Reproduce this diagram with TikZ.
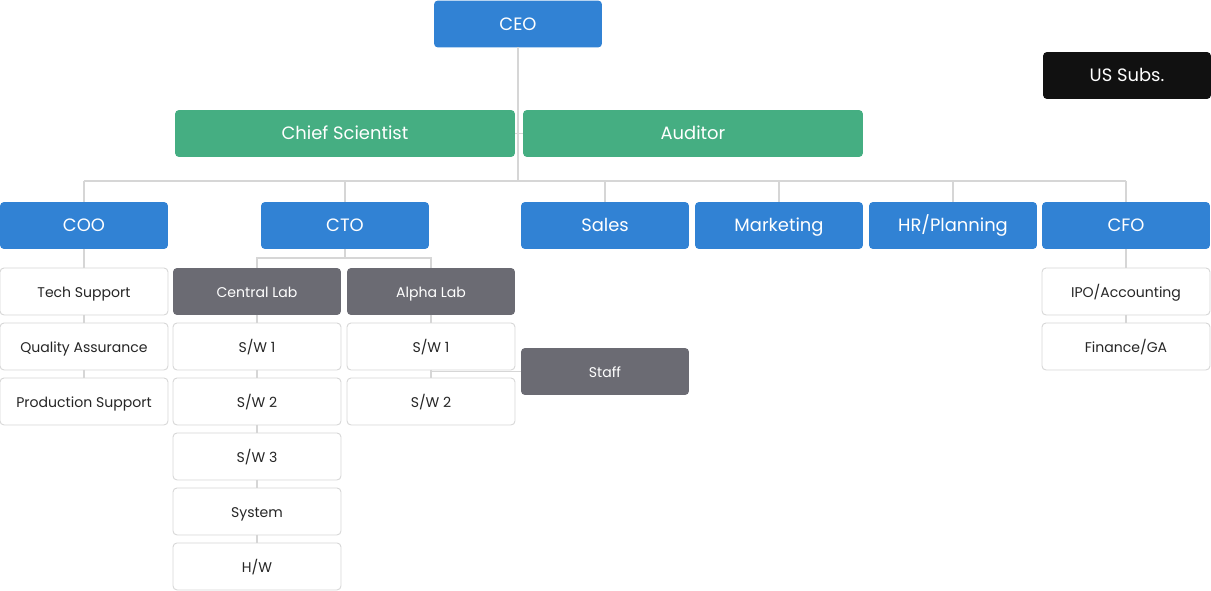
\documentclass[tikz,border=0pt]{standalone}
\usepackage{fontspec}
\setmainfont{Poppins}
\usetikzlibrary{positioning}
\definecolor{chartblue}{HTML}{3182D4}
\definecolor{chartgreen}{HTML}{45AE82}
\definecolor{chartgrey}{HTML}{6B6B73}
\definecolor{chartblack}{HTML}{111111}
\definecolor{chartline}{HTML}{D6D6D6}
\newcommand*{\bigtext}{\fontsize{10.2}{12}\selectfont}
\newcommand*{\smalltext}{\fontsize{8}{9.5}\selectfont}
\tikzstyle{block} = [minimum width=3.36cm, minimum height=0.94cm, rectangle, rounded corners=0.8mm, inner sep=2pt, outer sep=0pt, text height=0.7em, text depth=0pt]
\tikzstyle{head} = [block, fill=chartblue, text=white, font=\bigtext]
\tikzstyle{wide} = [block, fill=chartgreen, text=white, minimum width=6.8cm, font=\bigtext]
\tikzstyle{subsidiary} = [block, fill=chartblack, text=white, font=\bigtext]
\tikzstyle{lab} = [block, fill=chartgrey, text=white, font=\smalltext]
\tikzstyle{unit} = [block, draw=chartline, line width=0.5pt, fill=white, text=black!85, font=\smalltext]
\tikzstyle{link} = [draw=chartline, line width=0.6pt]

\begin{document}
\begin{tikzpicture}[x=0.02cm, y=-0.02cm, node distance=1.6mm]
    \useasboundingbox (0,0) rectangle (1211,591);

    % Top.
    \node (ceo) [head] at (518,24) {CEO};
    \node (chief) [wide] at (345,133.5) {Chief Scientist};
    \node (auditor) [wide] at (693,133.5) {Auditor};
    \node (subs) [subsidiary] at (1127,75.5) {US Subs.};

    % Heads.
    \node (coo) [head] at (84,225.5) {COO};
    \node (cto) [head] at (345,225.5) {CTO};
    \node (sales) [head] at (605,225.5) {Sales};
    \node (marketing) [head] at (779,225.5) {Marketing};
    \node (hr) [head] at (953,225.5) {HR/Planning};
    \node (cfo) [head] at (1126,225.5) {CFO};

    % Units.
    \node (tech) [unit, below=3.8mm of coo] {Tech Support};
    \node (quality) [unit, below=of tech] {Quality Assurance};
    \node (production) [unit, below=of quality] {Production Support};

    \node (central) [lab] at (257,291.5) {Central Lab};
    \node (alpha) [lab] at (431,291.5) {Alpha Lab};
    \node (csw1) [unit, below=of central] {S/W 1};
    \node (csw2) [unit, below=of csw1] {S/W 2};
    \node (csw3) [unit, below=of csw2] {S/W 3};
    \node (system) [unit, below=of csw3] {System};
    \node (hw) [unit, below=of system] {H/W};
    \node (asw1) [unit, below=of alpha] {S/W 1};
    \node (asw2) [unit, below=of asw1] {S/W 2};
    \node (staff) [lab] at (605,371.5) {Staff};

    \node (ipo) [unit, below=3.8mm of cfo] {IPO/Accounting};
    \node (finance) [unit, below=of ipo] {Finance/GA};

    % Lines.
    \coordinate (bus) at (518,181);
    \coordinate (labbus) at (345,258);
    \draw [link] (ceo) -- (bus);
    \draw [link] (chief) -- (auditor);
    \draw [link] (coo.north |- bus) -- (cfo.north |- bus);
    \foreach\n in {coo, cto, sales, marketing, hr, cfo} {
        \draw [link] (\n.north |- bus) -- (\n);
    }
    \draw [link] (cto) -- (labbus);
    \draw [link] (central) |- (labbus) -| (alpha);

    \foreach\i/\j in {coo/tech, tech/quality, quality/production,
                      central/csw1, csw1/csw2, csw2/csw3, csw3/system, system/hw,
                      alpha/asw1, asw1/asw2, cfo/ipo, ipo/finance} {
        \draw [link] (\i) -- (\j);
    }
    \draw [link] (staff) -- (staff -| asw1);
\end{tikzpicture}
\end{document}
